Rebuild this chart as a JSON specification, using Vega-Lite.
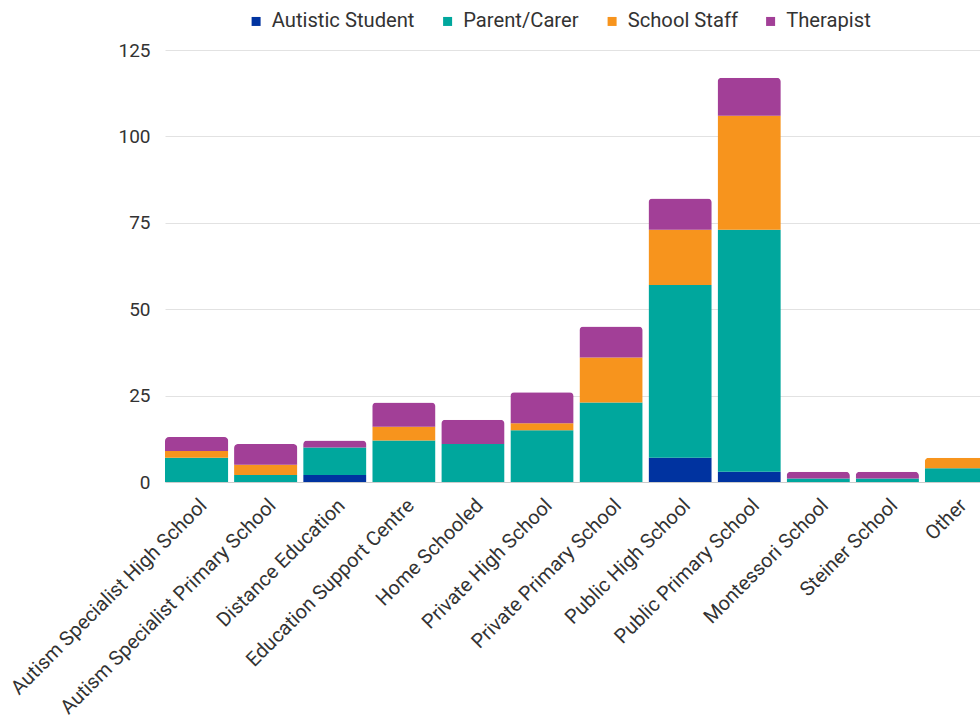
{
  "$schema": "https://vega.github.io/schema/vega-lite/v6.json",
  "autosize": {"type": "none"},
  "padding": {"left": 165, "top": 50, "right": 0, "bottom": 234},
  "width": 823,
  "height": 432,
  "background": "white",
  "config": {
    "font": "Roboto",
    "view": {"stroke": null}
  },
  "data": {
    "values": [
      {"school": "Autism Specialist High School", "role": "Parent/Carer", "value": 7},
      {"school": "Autism Specialist High School", "role": "School Staff", "value": 2},
      {"school": "Autism Specialist High School", "role": "Therapist", "value": 4},
      {"school": "Autism Specialist Primary School", "role": "Parent/Carer", "value": 2},
      {"school": "Autism Specialist Primary School", "role": "School Staff", "value": 3},
      {"school": "Autism Specialist Primary School", "role": "Therapist", "value": 6},
      {"school": "Distance Education", "role": "Autistic Student", "value": 2},
      {"school": "Distance Education", "role": "Parent/Carer", "value": 8},
      {"school": "Distance Education", "role": "Therapist", "value": 2},
      {"school": "Education Support Centre", "role": "Parent/Carer", "value": 12},
      {"school": "Education Support Centre", "role": "School Staff", "value": 4},
      {"school": "Education Support Centre", "role": "Therapist", "value": 7},
      {"school": "Home Schooled", "role": "Parent/Carer", "value": 11},
      {"school": "Home Schooled", "role": "Therapist", "value": 7},
      {"school": "Private High School", "role": "Parent/Carer", "value": 15},
      {"school": "Private High School", "role": "School Staff", "value": 2},
      {"school": "Private High School", "role": "Therapist", "value": 9},
      {"school": "Private Primary School", "role": "Parent/Carer", "value": 23},
      {"school": "Private Primary School", "role": "School Staff", "value": 13},
      {"school": "Private Primary School", "role": "Therapist", "value": 9},
      {"school": "Public High School", "role": "Autistic Student", "value": 7},
      {"school": "Public High School", "role": "Parent/Carer", "value": 50},
      {"school": "Public High School", "role": "School Staff", "value": 16},
      {"school": "Public High School", "role": "Therapist", "value": 9},
      {"school": "Public Primary School", "role": "Autistic Student", "value": 3},
      {"school": "Public Primary School", "role": "Parent/Carer", "value": 70},
      {"school": "Public Primary School", "role": "School Staff", "value": 33},
      {"school": "Public Primary School", "role": "Therapist", "value": 11},
      {"school": "Montessori School", "role": "Parent/Carer", "value": 1},
      {"school": "Montessori School", "role": "Therapist", "value": 2},
      {"school": "Steiner School", "role": "Parent/Carer", "value": 1},
      {"school": "Steiner School", "role": "Therapist", "value": 2},
      {"school": "Other", "role": "Parent/Carer", "value": 4},
      {"school": "Other", "role": "School Staff", "value": 3}
    ]
  },
  "transform": [
    {"joinaggregate": [{"op": "sum", "field": "value", "as": "total"}], "groupby": ["school"]}
  ],
  "mark": {
    "type": "bar",
    "cornerRadiusTopLeft": {"expr": "datum.value_end == datum.total ? 4 : 0"},
    "cornerRadiusTopRight": {"expr": "datum.value_end == datum.total ? 4 : 0"}
  },
  "encoding": {
    "x": {
      "field": "school",
      "type": "nominal",
      "sort": null,
      "scale": {"paddingInner": 0.084, "paddingOuter": 0.0},
      "axis": {
        "title": null,
        "labelAngle": -45,
        "labelFontSize": 20,
        "labelColor": "#333333",
        "labelPadding": 13,
        "ticks": false,
        "domainColor": "#cccccc",
        "labelLimit": 400
      }
    },
    "y": {
      "field": "value",
      "type": "quantitative",
      "stack": "zero",
      "scale": {"domain": [0, 125], "nice": false},
      "axis": {
        "title": null,
        "values": [0, 25, 50, 75, 100, 125],
        "labelFontSize": 19,
        "labelColor": "#333333",
        "labelPadding": 15,
        "ticks": false,
        "domain": false,
        "gridColor": "#e2e2e2"
      }
    },
    "order": {"field": "role", "sort": "ascending"},
    "color": {
      "field": "role",
      "type": "nominal",
      "scale": {
        "domain": ["Autistic Student", "Parent/Carer", "School Staff", "Therapist"],
        "range": ["#0033a0", "#00a79d", "#f7941d", "#a23f97"]
      },
      "legend": {
        "title": null,
        "orient": "none",
        "legendX": 81,
        "legendY": -39,
        "direction": "horizontal",
        "symbolType": "square",
        "symbolSize": 81,
        "labelOffset": 5.5,
        "labelFontSize": 20.2,
        "labelColor": "#333333",
        "columnPadding": 22.5
      }
    }
  }
}
